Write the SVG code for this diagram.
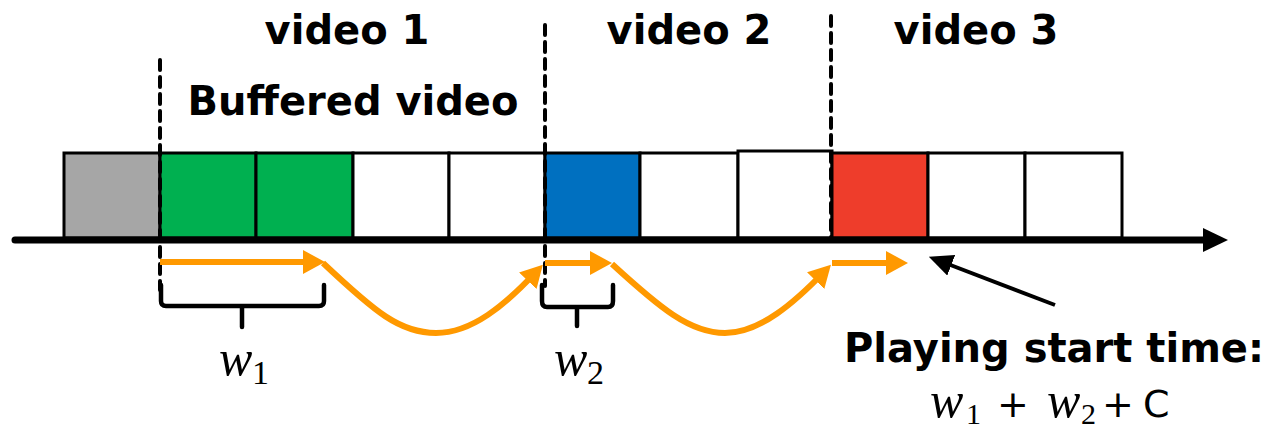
<svg xmlns="http://www.w3.org/2000/svg" width="1274" height="432" viewBox="0 0 1274 432">
<style>
.cell{stroke:#000;stroke-width:3}
.dash{stroke:#000;stroke-width:4;stroke-dasharray:10 7;stroke-linecap:round;fill:none}
.orange{stroke:#FF9900;stroke-width:6;fill:none;stroke-linejoin:round}
.brace{stroke:#000;stroke-width:4.5;fill:none;stroke-linecap:round;stroke-linejoin:round}
.title{font-family:"DejaVu Sans",sans-serif;font-weight:bold;font-size:40px;fill:#000}
.math{font-family:"Liberation Serif","DejaVu Serif",serif;font-style:italic;font-size:50px;fill:#000}
.sub{font-family:"Liberation Serif","DejaVu Serif",serif;font-size:34px;fill:#000}
.fsub{font-family:"Liberation Serif","DejaVu Serif",serif;font-size:30px;fill:#000}
.op{font-family:"DejaVu Sans",sans-serif;font-size:38px;fill:#000}
</style>
<defs>
<marker id="oa" viewBox="0 0 22 24" refX="12" refY="12" markerWidth="22" markerHeight="24" markerUnits="userSpaceOnUse" orient="auto">
<path d="M0,0 L22,12 L0,24 Z" fill="#FF9900"/>
</marker>
<marker id="ba" viewBox="0 0 24 22" refX="12" refY="11" markerWidth="24" markerHeight="22" markerUnits="userSpaceOnUse" orient="auto">
<path d="M0,0 L24,11 L0,22 Z" fill="#000"/>
</marker>
</defs>

<g id="cells">
<rect class="cell" x="64" y="153" width="96" height="85" fill="#A6A6A6"/>
<rect class="cell" x="160" y="153" width="96" height="85" fill="#00B050"/>
<rect class="cell" x="256" y="153" width="97" height="85" fill="#00B050"/>
<rect class="cell" x="353" y="153" width="96" height="85" fill="#FFFFFF"/>
<rect class="cell" x="449" y="153" width="96" height="85" fill="#FFFFFF"/>
<rect class="cell" x="545" y="153" width="95" height="85" fill="#0070C0"/>
<rect class="cell" x="640" y="153" width="98" height="85" fill="#FFFFFF"/>
<rect class="cell" x="738" y="151" width="94" height="87" fill="#FFFFFF"/>
<rect class="cell" x="832" y="153" width="96" height="85" fill="#EE3D2B"/>
<rect class="cell" x="928" y="153" width="97" height="85" fill="#FFFFFF"/>
<rect class="cell" x="1025" y="153" width="97" height="85" fill="#FFFFFF"/>
</g>

<g id="axis">
<line x1="15" y1="240" x2="1206" y2="240" stroke="#000" stroke-width="7" stroke-linecap="round"/>
<path d="M1203,228 L1228,240 L1203,252 Z" fill="#000"/>
</g>

<g id="dividers">
<line class="dash" x1="160" y1="60" x2="160" y2="290"/>
<line class="dash" x1="545" y1="25" x2="545" y2="286"/>
<line class="dash" x1="831" y1="16" x2="831" y2="238"/>
</g>

<g id="connectors">
<path class="orange" d="M160,262 H315" marker-end="url(#oa)"/>
<path class="orange" d="M323,263 C375,312 400,333 436,333 C472,333 505,305 536,272" marker-end="url(#oa)"/>
<path class="orange" d="M545,263 H602" marker-end="url(#oa)"/>
<path class="orange" d="M612,264 C660,308 690,333 725,333 C760,333 795,302 824,272" marker-end="url(#oa)"/>
<path class="orange" d="M832,263 H898" marker-end="url(#oa)"/>
<line x1="1055" y1="305" x2="940" y2="261" stroke="#000" stroke-width="4" marker-end="url(#ba)"/>
</g>

<g id="brace-w1">
<path class="brace" d="M161,285 V301 Q161,306 166,306 H319 Q324,306 324,301 V285 M242,306 V327"/>
<text class="math" x="219" y="375">w</text><text class="sub" x="252" y="384">1</text>
</g>
<g id="brace-w2">
<path class="brace" d="M542,285 V301 Q542,307 547,307 H608 Q613,307 613,301 V285 M577,307 V326"/>
<text class="math" x="554" y="375">w</text><text class="sub" x="587" y="384">2</text>
</g>

<g id="labels">
<text class="title" x="347" y="44" text-anchor="middle">video 1</text>
<text class="title" x="353" y="115" text-anchor="middle">Buffered video</text>
<text class="title" x="689" y="44" text-anchor="middle">video 2</text>
<text class="title" x="976" y="44" text-anchor="middle">video 3</text>
<text class="title" x="1054" y="362" text-anchor="middle" font-size="38.5">Playing start time:</text>
</g>

<g id="formula">
<text class="math" x="930" y="417">w</text><text class="fsub" x="966" y="424">1</text>
<text class="op" x="997" y="417">+</text>
<text class="math" x="1047" y="417">w</text><text class="fsub" x="1081" y="424">2</text>
<text class="op" x="1102" y="417">+</text>
<text class="op" x="1143" y="417">C</text>
</g>
</svg>
